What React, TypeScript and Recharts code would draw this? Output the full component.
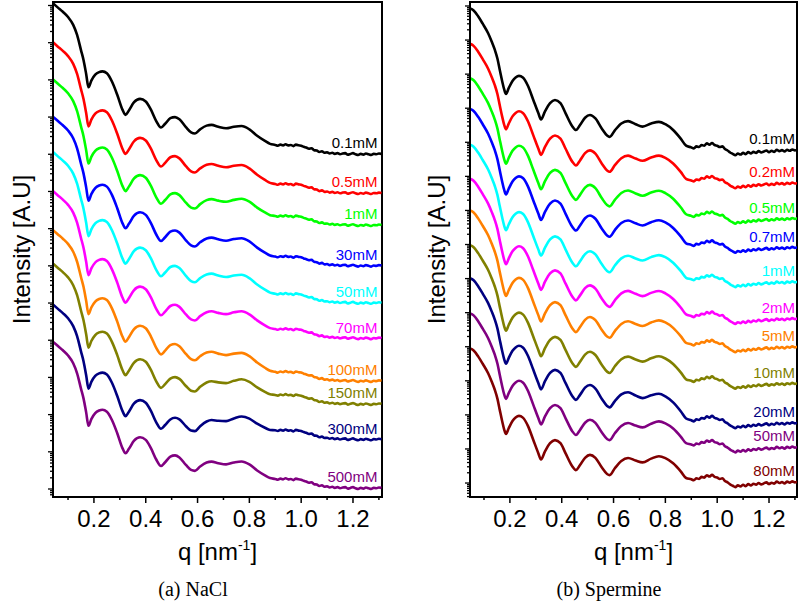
import { LineChart, Line, XAxis, YAxis, ReferenceArea, Label } from 'recharts';

// shared high-q tail grid (nm^-1)
const qTail = [
  0.9, 0.91, 0.92, 0.93, 0.94, 0.95, 0.96, 0.97, 0.98, 0.99,
  1.0, 1.01, 1.02, 1.03, 1.04, 1.05, 1.06, 1.07, 1.08, 1.09,
  1.1, 1.11, 1.12, 1.13, 1.14, 1.15, 1.16, 1.17, 1.18, 1.19,
  1.2, 1.21, 1.22, 1.23, 1.24, 1.25, 1.26, 1.27, 1.28, 1.29,
  1.3, 1.31,
];

// (a) NaCl — profile of the top curve, log10 intensity
const qNaCl = [
  0.042, 0.06, 0.08, 0.1, 0.12, 0.135, 0.15, 0.16, 0.17, 0.179,
  0.19, 0.205, 0.22, 0.233, 0.25, 0.27, 0.29, 0.31, 0.322, 0.335,
  0.355, 0.378, 0.4, 0.42, 0.44, 0.459, 0.475, 0.495, 0.513, 0.53,
  0.555, 0.575, 0.59, 0.61, 0.635, 0.654, 0.68, 0.71, 0.74, 0.77,
  0.8, 0.83, 0.86, 0.88, ...qTail,
];
const logNaCl = [
  0.06, -0.05, -0.17, -0.31, -0.52, -0.79, -1.2, -1.47, -1.84, -2.2,
  -2.02, -1.86, -1.79, -1.77, -1.82, -2.05, -2.4, -2.8, -2.94, -2.82,
  -2.6, -2.51, -2.58, -2.8, -3.1, -3.28, -3.18, -3.03, -3.0, -3.06,
  -3.27, -3.41, -3.44, -3.33, -3.23, -3.21, -3.26, -3.3, -3.26, -3.24,
  -3.33, -3.5, -3.64, -3.72,
  -3.75, -3.77, -3.74, -3.76, -3.73, -3.76, -3.75, -3.78, -3.74, -3.76,
  -3.77, -3.8, -3.82, -3.85, -3.84, -3.89, -3.9, -3.94, -3.92, -3.96,
  -3.95, -3.98, -3.96, -3.99, -3.97, -4.0, -3.98, -3.97, -4.01, -3.99,
  -3.97, -4.0, -4.02, -3.99, -4.01, -3.98, -4.0, -4.02, -3.99, -4.0,
  -3.98, -3.99,
];
const namesNaCl = ['0.1mM', '0.5mM', '1mM', '30mM', '50mM', '70mM', '100mM', '150mM', '300mM', '500mM'];
const offsetNaCl = [0, -1.05, -2.05, -3.05, -4.0, -5.05, -6.1, -7.0, -8.1, -9.1];
const tailNaCl = [0, 0, 0.14, 0.05, 0, 0.1, 0, 0.28, 0.43, 0.12];
const colorsNaCl = ['#000000', '#ff0000', '#00ff00', '#0000ff', '#00ffff', '#ff00ff', '#ff8000', '#808000', '#000080', '#800080'];

// (b) Spermine
const qSperm = [
  0.046, 0.06, 0.078, 0.095, 0.116, 0.13, 0.142, 0.152, 0.161, 0.17,
  0.178, 0.185, 0.195, 0.21, 0.222, 0.235, 0.25, 0.27, 0.29, 0.31,
  0.32, 0.335, 0.355, 0.374, 0.395, 0.415, 0.44, 0.455, 0.47, 0.49,
  0.509, 0.53, 0.555, 0.575, 0.585, 0.605, 0.63, 0.656, 0.685, 0.712,
  0.745, 0.775, 0.8, 0.83, 0.86, 0.88, ...qTail,
];
const logSperm = [
  -0.07, -0.13, -0.31, -0.52, -0.8, -1.05, -1.29, -1.55, -1.88, -2.2,
  -2.45, -2.58, -2.42, -2.2, -2.1, -2.05, -2.1, -2.35, -2.75, -3.15,
  -3.33, -3.1, -2.85, -2.76, -2.85, -3.15, -3.52, -3.64, -3.5, -3.28,
  -3.2, -3.3, -3.6, -3.8, -3.84, -3.65, -3.45, -3.38, -3.47, -3.54,
  -3.45, -3.4, -3.47, -3.64, -3.9, -4.1,
  -4.15, -4.18, -4.12, -4.14, -4.08, -4.1, -4.03, -4.07, -4.02, -4.08,
  -4.1, -4.14, -4.12, -4.2, -4.24, -4.3, -4.34, -4.38, -4.33, -4.36,
  -4.31, -4.35, -4.29, -4.33, -4.28, -4.31, -4.26, -4.3, -4.27, -4.24,
  -4.29, -4.25, -4.28, -4.22, -4.26, -4.23, -4.27, -4.22, -4.25, -4.21,
  -4.24, -4.22,
];
const namesSperm = ['0.1mM', '0.2mM', '0.5mM', '0.7mM', '1mM', '2mM', '5mM', '10mM', '20mM', '50mM', '80mM'];
const offsetSperm = [0, -1.04, -2.05, -2.95, -4.0, -5.0, -5.93, -6.95, -7.92, -8.95, -9.98];
const tailSperm = [0, 0.07, 0.04, 0.09, 0.13, 0.05, 0.15, 0.1, -0.09, 0.23, 0.24];
const colorsSperm = ['#000000', '#ff0000', '#00ff00', '#0000ff', '#00ffff', '#ff00ff', '#ff8000', '#808000', '#000080', '#800080', '#800000'];

const xTicks = [0.1, 0.2, 0.3, 0.4, 0.5, 0.6, 0.7, 0.8, 0.9, 1.0, 1.1, 1.2, 1.3];
const xMajor = [0.2, 0.4, 0.6, 0.8, 1.0, 1.2];
const decadesNaCl = [0, -1, -2, -3, -4, -5, -6, -7, -8, -9, -10, -11, -12, -13];
const decadesSperm = [0, -1, -2, -3, -4, -5, -6, -7, -8, -9, -10, -11, -12, -13, -14];
const minorSteps = [2, 3, 4, 5, 6, 7, 8, 9];

const SANS = "'Liberation Sans', Arial, sans-serif";

function buildRows(q: number[], base: number[], offsets: number[], tails: number[]) {
  return q.map((qv, i) => {
    const row: Record<string, number> = { q: qv };
    const w = Math.min(1, Math.max(0, (qv - 0.5) / 0.4));
    offsets.forEach((off, k) => {
      row[`s${k}`] = 10 ** (base[i] + off + tails[k] * w);
    });
    return row;
  });
}

function buildYTicks(decades: number[], lo: number, hi: number) {
  const out: number[] = [];
  [...decades, decades[decades.length - 1] - 1].forEach((d) => {
    out.push(10 ** d);
    minorSteps.forEach((m) => out.push(m * 10 ** d));
  });
  return out.filter((v) => Math.log10(v) >= lo && Math.log10(v) <= hi);
}

const isDecade = (v: number) => Math.abs(Math.log10(v) - Math.round(Math.log10(v))) < 1e-6;

const XTick = (p: any) => {
  const v = p.payload.value;
  const major = xMajor.some((m) => Math.abs(m - v) < 1e-6);
  return (
    <g>
      <line x1={p.x} x2={p.x} y1={p.y} y2={p.y + (major ? 6 : 3)} stroke='#000' strokeWidth={1.5} />
      {major && (
        <text x={p.x} y={p.y + 30} textAnchor='middle' fontSize={24} fontFamily={SANS} fill='#000'>
          {v.toFixed(1)}
        </text>
      )}
    </g>
  );
};

const YTick = (p: any) => {
  const major = isDecade(p.payload.value);
  return <line x1={p.x} x2={p.x - (major ? 5 : 3)} y1={p.y} y2={p.y} stroke='#000' strokeWidth={1.3} />;
};

type PanelProps = {
  q: number[];
  base: number[];
  names: string[];
  colors: string[];
  offsets: number[];
  tails: number[];
  xDomain: [number, number];
  yExp: [number, number];
  decades: number[];
  margin: { top: number; right: number; bottom: number; left: number };
  titleDx: number;
  labelInset: number;
};

const Panel = ({ q, base, names, colors, offsets, tails, xDomain, yExp, decades, margin, titleDx, labelInset }: PanelProps) => {
  const data = buildRows(q, base, offsets, tails);
  const yDomain: [number, number] = [10 ** yExp[0], 10 ** yExp[1]];
  const yTicks = buildYTicks(decades, yExp[0], yExp[1]);
  const last = q.length - 1;

  return (
    <LineChart width={400} height={603} data={data} margin={margin}>
      <XAxis
        dataKey='q'
        type='number'
        domain={xDomain}
        ticks={xTicks}
        interval={0}
        tickSize={0}
        tickMargin={0}
        tick={XTick}
        axisLine={{ stroke: '#000', strokeWidth: 2 }}
        height={60}
        allowDataOverflow
      >
        <Label
          content={(p: any) => {
            const vb = p.viewBox;
            const cx = vb.x + vb.width / 2;
            return (
              <text x={cx} y={vb.y + 63} textAnchor='middle' fontSize={24} fontFamily={SANS} fill='#000'>
                q [nm
                <tspan fontSize={14} dy={-10}>-1</tspan>
                <tspan dy={10}>]</tspan>
              </text>
            );
          }}
        />
      </XAxis>
      <YAxis
        type='number'
        scale='log'
        domain={yDomain}
        ticks={yTicks}
        interval={0}
        tickSize={0}
        tickMargin={0}
        tick={YTick}
        axisLine={{ stroke: '#000', strokeWidth: 2 }}
        width={20}
        allowDataOverflow
      >
        <Label
          content={(p: any) => {
            const vb = p.viewBox;
            const cx = vb.x + titleDx;
            const cy = vb.y + vb.height / 2;
            return (
              <text x={cx} y={cy} transform={`rotate(-90 ${cx} ${cy})`} textAnchor='middle' fontSize={24} fontFamily={SANS} fill='#000'>
                Intensity [A.U]
              </text>
            );
          }}
        />
      </YAxis>
      <ReferenceArea
        x1={xDomain[0]}
        x2={xDomain[1]}
        y1={yDomain[0]}
        y2={yDomain[1]}
        fill='none'
        stroke='#000'
        strokeWidth={2}
        ifOverflow='visible'
      />
      {names.map((name, k) => (
        <Line
          key={name + k}
          dataKey={`s${k}`}
          type='monotone'
          stroke={colors[k]}
          strokeWidth={2.6}
          dot={false}
          isAnimationActive={false}
          label={(p: any) =>
            p.index === last ? (
              <text x={p.x - labelInset} y={p.y - 5.5} textAnchor='end' fontSize={15} fontFamily={SANS} fill={colors[k]}>
                {name}
              </text>
            ) : (
              <g />
            )
          }
        />
      ))}
    </LineChart>
  );
};

export default function App() {
  return (
    <div style={{ position: 'absolute', left: 0, top: 0, width: 800, height: 603, background: '#fff' }}>
      <div style={{ position: 'absolute', left: 0, top: 0 }}>
        <Panel
          q={qNaCl}
          base={logNaCl}
          names={namesNaCl}
          colors={colorsNaCl}
          offsets={offsetNaCl}
          tails={tailNaCl}
          xDomain={[0.042, 1.312]}
          yExp={[-13.215, 0.094]}
          decades={decadesNaCl}
          margin={{ top: 2, right: 18, bottom: 46, left: 33 }}
          titleDx={-3}
          labelInset={4}
        />
      </div>
      <div style={{ position: 'absolute', left: 400, top: 0 }}>
        <Panel
          q={qSperm}
          base={logSperm}
          names={namesSperm}
          colors={colorsSperm}
          offsets={offsetSperm}
          tails={tailSperm}
          xDomain={[0.046, 1.308]}
          yExp={[-14.41, 0.117]}
          decades={decadesSperm}
          margin={{ top: 2, right: 3, bottom: 46, left: 50 }}
          titleDx={-5}
          labelInset={2.5}
        />
      </div>
      <div
        style={{
          position: 'absolute', left: 0, top: 579, width: 386, textAlign: 'center',
          fontFamily: "'Liberation Serif', 'Times New Roman', serif", fontSize: 20, lineHeight: '20px',
        }}
      >
        (a) NaCl
      </div>
      <div
        style={{
          position: 'absolute', left: 418, top: 579, width: 382, textAlign: 'center',
          fontFamily: "'Liberation Serif', 'Times New Roman', serif", fontSize: 20, lineHeight: '20px',
        }}
      >
        (b) Spermine
      </div>
    </div>
  );
}
